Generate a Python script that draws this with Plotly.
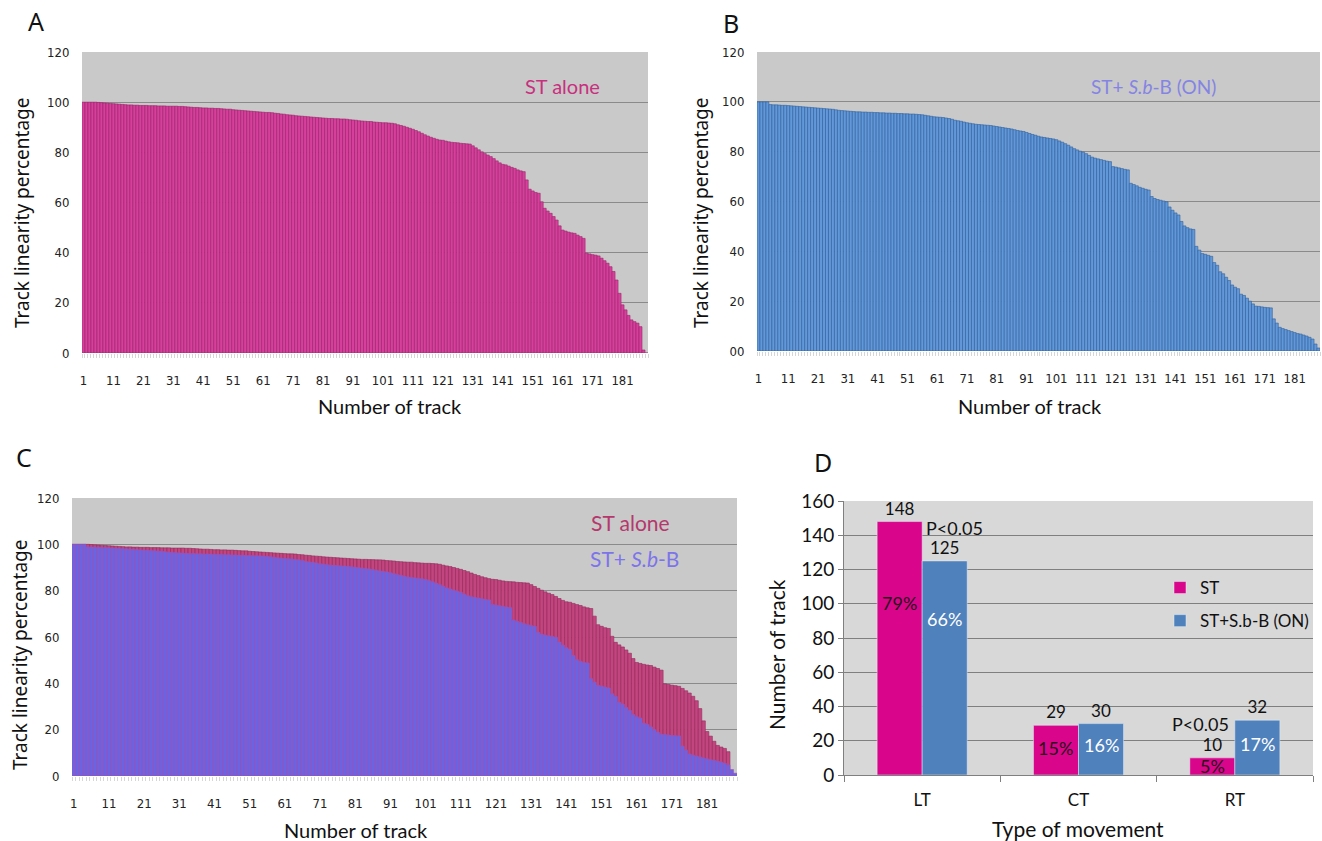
import plotly.graph_objects as go

# ---------------- data ----------------
tracks = list(range(1, 190))

st_alone = [
    100, 100, 100, 100, 100, 99.9, 99.8, 99.7, 99.6, 99.5,
    99.4, 99.3, 99.2, 99.1, 99.0, 98.9, 98.9, 98.8, 98.8, 98.7,
    98.7, 98.7, 98.6, 98.6, 98.6, 98.5, 98.5, 98.5, 98.4, 98.4,
    98.4, 98.4, 98.3, 98.3, 98.2, 98.1, 98.0, 97.9, 97.9, 97.8,
    97.7, 97.7, 97.6, 97.6, 97.5, 97.5, 97.4, 97.3, 97.2, 97.2,
    97.0, 96.9, 96.8, 96.7, 96.6, 96.5, 96.4, 96.3, 96.2, 96.1,
    96.0, 95.9, 95.9, 95.8, 95.6, 95.5, 95.3, 95.2, 95.0, 94.9,
    94.8, 94.6, 94.5, 94.4, 94.3, 94.2, 94.1, 94.0, 93.9, 93.8,
    93.7, 93.6, 93.5, 93.5, 93.4, 93.4, 93.3, 93.3, 93.2, 93.0,
    92.9, 92.8, 92.6, 92.5, 92.4, 92.3, 92.3, 92.1, 92.0, 91.9,
    91.8, 91.8, 91.7, 91.6, 91.4, 91.0, 90.7, 90.4, 90.0, 89.6,
    89.2, 88.7, 88.2, 87.6, 87.0, 86.5, 86.0, 85.6, 85.2, 84.9,
    84.8, 84.5, 84.2, 84.0, 83.9, 83.8, 83.6, 83.5, 83.4, 83.3,
    82.6, 81.8, 81.0, 80.2, 79.5, 78.9, 78.3, 77.5, 76.6, 75.8,
    75.2, 75.0, 74.5, 74.0, 73.6, 73.0, 72.6, 72.3, 69.0, 65.3,
    64.6, 64.0, 63.7, 60.3, 57.7, 56.6, 55.7, 54.4, 53.0, 50.7,
    49.0, 48.6, 48.2, 47.9, 47.7, 47.0, 46.4, 45.7, 39.8, 39.5,
    39.2, 39.0, 38.7, 37.8, 36.8, 35.8, 34.4, 32.5, 29.1, 23.8,
    19.2, 17.2, 15.0, 13.2, 12.5, 11.9, 10.5, 1.2, 0,
]

st_sbb = [
    100, 100, 100, 100, 98.9, 98.8, 98.8, 98.7, 98.6, 98.6,
    98.5, 98.4, 98.3, 98.2, 98.1, 98.0, 97.9, 97.8, 97.7, 97.6,
    97.5, 97.4, 97.3, 97.2, 97.1, 97.0, 96.8, 96.6, 96.5, 96.4,
    96.3, 96.2, 96.1, 96.0, 96.0, 95.9, 95.9, 95.8, 95.8, 95.7,
    95.7, 95.6, 95.6, 95.5, 95.5, 95.4, 95.4, 95.3, 95.3, 95.2,
    95.2, 95.1, 95.1, 95.0, 94.9, 94.8, 94.6, 94.4, 94.2, 94.0,
    93.9, 93.8, 93.7, 93.5, 93.3, 93.0, 92.6, 92.4, 92.2, 91.9,
    91.6, 91.4, 91.2, 91.0, 90.9, 90.8, 90.7, 90.6, 90.5, 90.3,
    90.1, 89.9, 89.7, 89.5, 89.3, 89.1, 88.8, 88.5, 88.3, 88.1,
    87.7, 87.3, 86.9, 86.6, 86.2, 85.9, 85.7, 85.5, 85.3, 85.1,
    84.8, 84.3, 83.8, 83.2, 82.6, 81.9, 81.2, 80.7, 80.2, 79.8,
    79.2, 78.5, 77.8, 77.4, 77.1, 76.8, 76.5, 76.2, 76.0, 74.0,
    73.8, 73.5, 73.2, 72.9, 72.7, 67.3, 66.8, 66.3, 65.7, 65.3,
    64.9, 64.6, 62.0, 61.2, 60.8, 60.5, 60.2, 59.9, 57.8, 56.5,
    55.4, 54.6, 52.0, 50.2, 49.5, 49.0, 48.8, 42.0, 40.5, 39.1,
    38.8, 38.4, 38.0, 35.5, 34.4, 31.8, 31.0, 29.6, 28.3, 26.5,
    25.6, 25.0, 22.8, 22.3, 21.2, 20.0, 18.9, 18.0, 17.9, 17.7,
    17.5, 17.4, 17.3, 12.9, 11.2, 9.5, 9.0, 8.6, 8.2, 7.8,
    7.4, 7.0, 6.8, 6.4, 6.0, 5.5, 4.8, 2.8, 1.2,
]

x_tick_vals = list(range(1, 190, 10))
y_tick_vals = [0, 20, 40, 60, 80, 100, 120]
y_tick_text_a = ["0", "20", "40", "60", "80", "100", "120"]
y_tick_text_b = ["00", "20", "40", "60", "80", "100", "120"]

movement = ["LT", "CT", "RT"]
count_st = [148, 29, 10]
count_sbb = [125, 30, 32]
pct_st = ["79%", "15%", "5%"]
pct_sbb = ["66%", "16%", "17%"]
d_tick_vals = [0, 20, 40, 60, 80, 100, 120, 140, 160]

# ---------------- styling ----------------
W, H = 1322, 841
NARROW = "Liberation Sans Narrow, DejaVu Sans Condensed, Arial Narrow, sans-serif"
CAL = "Lato, Carlito, Calibri, sans-serif"
TITLE = "Noto Sans, Open Sans, sans-serif"


def px_x(p):
    return p / W


def px_y(p):
    return 1 - p / H


# plot areas in pixels (left, right, top, bottom)
box_a = (82, 648, 52, 353)
box_b = (757, 1320, 52, 351)
box_c = (72, 737, 498, 776)
box_d = (844, 1313, 501, 775)


def dom(box):
    l, r, t, b = box
    return [px_x(l), px_x(r)], [px_y(b), px_y(t)]


fig = go.Figure()

# Panel A
fig.add_trace(go.Bar(x=tracks, y=st_alone, xaxis="x", yaxis="y", width=1,
                     marker=dict(color="#d6409c", line=dict(color="#9c2169", width=0.6)),
                     showlegend=False, hoverinfo="x+y"))
# Panel B
fig.add_trace(go.Bar(x=tracks, y=st_sbb, xaxis="x2", yaxis="y2", width=1,
                     marker=dict(color="#6398d8", line=dict(color="#2d5f9f", width=0.6)),
                     showlegend=False, hoverinfo="x+y"))
# Panel C (overlaid)
fig.add_trace(go.Bar(x=tracks, y=st_alone, xaxis="x3", yaxis="y3", width=1, offset=-0.5,
                     marker=dict(color="#c3457f", line=dict(color="#93285a", width=0.6)),
                     showlegend=False, hoverinfo="x+y"))
fig.add_trace(go.Bar(x=tracks, y=st_sbb, xaxis="x3", yaxis="y3", width=1, offset=-0.5,
                     marker=dict(color="#6a63e2", line=dict(color="#a252b4", width=0.6)),
                     showlegend=False, hoverinfo="x+y"))
# Panel D
fig.add_trace(go.Bar(x=movement, y=count_st, xaxis="x4", yaxis="y4", name="ST",
                     legendgroup="g1",
                     marker=dict(color="#d9068c"), text=count_st, textposition="outside",
                     textfont=dict(family=CAL, size=17, color="#111111"), cliponaxis=False))
fig.add_trace(go.Bar(x=movement, y=count_sbb, xaxis="x4", yaxis="y4", name="ST+S.b-B (ON)",
                     legendgroup="g2",
                     marker=dict(color="#4f81bd"), text=count_sbb, textposition="outside",
                     textfont=dict(family=CAL, size=17, color="#111111"), cliponaxis=False))

xa, ya = dom(box_a)
xb, yb = dom(box_b)
xc, yc = dom(box_c)
xd, yd = dom(box_d)


def track_xaxis(domain, anchor):
    return dict(domain=domain, anchor=anchor, range=[0.5, 189.5], tickmode="array",
                tickvals=x_tick_vals, ticks="outside", ticklen=15, tickcolor="rgba(0,0,0,0)",
                showgrid=False, zeroline=False, showline=False, automargin=False,
                tickfont=dict(family=NARROW, size=13, color="#222222"),
                minor=dict(tickmode="linear", tick0=0.5, dtick=1, ticks="outside",
                           ticklen=4, tickcolor="#d6d6d6", showgrid=False))


def track_yaxis(domain, anchor, ticktext):
    return dict(domain=domain, anchor=anchor, range=[0, 120], tickmode="array",
                tickvals=y_tick_vals, ticktext=ticktext, showgrid=True,
                gridcolor="#8a8a8a", gridwidth=1, zeroline=False, showline=False,
                ticks="outside", ticklen=9, tickcolor="rgba(0,0,0,0)", automargin=False,
                tickfont=dict(family=NARROW, size=13, color="#222222"))


fig.update_layout(
    width=W, height=H,
    margin=dict(l=0, r=0, t=0, b=0, autoexpand=False),
    paper_bgcolor="white", plot_bgcolor="rgba(0,0,0,0)",
    barmode="group", bargap=0.424, bargroupgap=0,
    xaxis=track_xaxis(xa, "y"), yaxis=track_yaxis(ya, "x", y_tick_text_a),
    xaxis2=track_xaxis(xb, "y2"), yaxis2=track_yaxis(yb, "x2", y_tick_text_b),
    xaxis3=track_xaxis(xc, "y3"), yaxis3=track_yaxis(yc, "x3", y_tick_text_a),
    xaxis4=dict(domain=xd, anchor="y4", type="category", showgrid=False, zeroline=False,
                showline=True, linecolor="#7f7f7f", linewidth=1, ticks="outside",
                tickson="boundaries", ticklen=6, tickcolor="#7f7f7f", automargin=False,
                ticklabelstandoff=10,
                tickfont=dict(family=CAL, size=17, color="#111111")),
    yaxis4=dict(domain=yd, anchor="x4", range=[0, 160], tickmode="array", tickvals=d_tick_vals,
                showgrid=True, gridcolor="#7f7f7f", gridwidth=1, zeroline=False,
                showline=True, linecolor="#7f7f7f", linewidth=1, ticks="outside",
                ticklen=5, tickcolor="#7f7f7f", automargin=False,
                tickfont=dict(family=CAL, size=19, color="#111111")),
    legend=dict(x=px_x(1160), y=px_y(570), xanchor="left", yanchor="top",
                bgcolor="rgba(0,0,0,0)", font=dict(family=CAL, size=17, color="#111111"),
                itemwidth=30, tracegroupgap=8),
    showlegend=True,
)

# backgrounds
shapes = []
for xr, yr, col in [("x", "y", "#c9c9c9"), ("x2", "y2", "#c9c9c9"),
                    ("x3", "y3", "#c9c9c9"), ("x4", "y4", "#d8d8d8")]:
    shapes.append(dict(type="rect", xref=f"{xr} domain", yref=f"{yr} domain",
                       x0=0, x1=1, y0=0, y1=1, fillcolor=col, line=dict(width=0),
                       layer="below"))
fig.update_layout(shapes=shapes)

ann = []


def add_text(text, x, y, size, family=CAL, color="#111111", angle=0, xanchor="center",
             yanchor="middle"):
    ann.append(dict(text=text, x=px_x(x), y=px_y(y), xref="paper", yref="paper",
                    showarrow=False, font=dict(family=family, size=size, color=color),
                    textangle=angle, xanchor=xanchor, yanchor=yanchor))


# panel letters
add_text("A", 36, 21, 25, family=TITLE)
add_text("B", 731, 23, 25, family=TITLE)
add_text("C", 24, 457, 25, family=TITLE)
add_text("D", 823, 462, 25, family=TITLE)

# axis titles
add_text("Track linearity percentage", 22, 213, 19, family=TITLE, angle=-90)
add_text("Track linearity percentage", 701, 213, 19, family=TITLE, angle=-90)
add_text("Track linearity percentage", 20, 655, 19, family=TITLE, angle=-90)
add_text("Number of track", 390, 406, 20)
add_text("Number of track", 1030, 406, 20)
add_text("Number of track", 356, 830, 20)
add_text("Number of track", 776, 655, 21, angle=-90)
add_text("Type of movement", 1078, 828, 21)

# in-chart labels
add_text("ST alone", 562, 86, 20, color="#c8307f")
add_text("ST+ <i>S.b</i>-B (ON)", 1153, 87, 19, color="#8484e4")
add_text("ST alone", 630, 522, 21, color="#b5386c")
add_text("ST+ <i>S.b</i>-B", 634, 558, 21, color="#7c74ea")

# panel D percentage labels & p-values (data coords)
half = (1 - 0.424) / 4  # centre offset of each bar inside a group
pct_frac_st = [0.68, 0.55, 0.55]
pct_frac_sbb = [0.73, 0.58, 0.57]
for i in range(3):
    ann.append(dict(text=pct_st[i], x=i - half, y=count_st[i] * pct_frac_st[i], xref="x4",
                    yref="y4", showarrow=False,
                    font=dict(family=CAL, size=18, color="#2a0a1a")))
    ann.append(dict(text=pct_sbb[i], x=i + half, y=count_sbb[i] * pct_frac_sbb[i], xref="x4",
                    yref="y4", showarrow=False,
                    font=dict(family=CAL, size=18, color="#ffffff")))
ann.append(dict(text="P<0.05", x=0, y=count_st[0] - 4, xref="x4", yref="y4",
                showarrow=False, xanchor="left", xshift=2,
                font=dict(family=CAL, size=18, color="#111111")))
ann.append(dict(text="P<0.05", x=2, y=count_st[2] + 20, xref="x4", yref="y4",
                showarrow=False, xanchor="right", xshift=-4,
                font=dict(family=CAL, size=18, color="#111111")))

fig.update_layout(annotations=ann)

fig.write_html("out.html")
